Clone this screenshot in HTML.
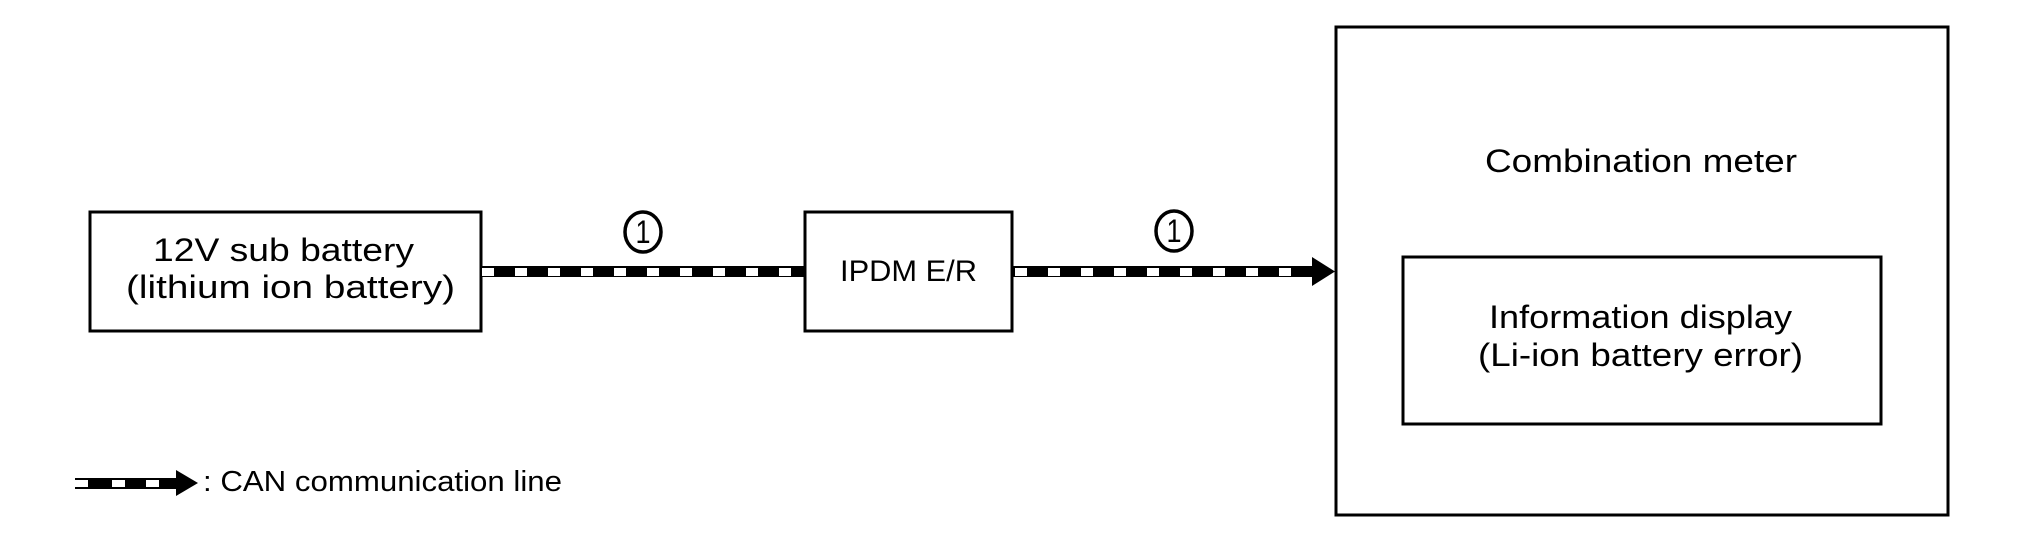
<!DOCTYPE html>
<html><head><meta charset="utf-8"><style>html,body{margin:0;padding:0;background:#fff}svg{display:block}</style></head><body>
<svg width="2020" height="544" viewBox="0 0 2020 544" xmlns="http://www.w3.org/2000/svg" font-family="Liberation Sans, sans-serif" fill="#000">
<defs>
<pattern id="dash" x="482" y="0" width="33" height="544" patternUnits="userSpaceOnUse">
<rect x="0" y="268" width="12" height="8" fill="#fff"/>
</pattern>
</defs>
<rect x="90" y="212" width="391" height="119" fill="none" stroke="#000" stroke-width="3"/>
<rect x="805" y="212" width="207" height="119" fill="none" stroke="#000" stroke-width="3"/>
<rect x="1336" y="27" width="612" height="488" fill="none" stroke="#000" stroke-width="3"/>
<rect x="1403" y="257" width="478" height="167" fill="none" stroke="#000" stroke-width="3"/>
<rect x="481" y="266" width="324" height="11" fill="#000"/>
<rect x="481" y="266" width="324" height="11" fill="url(#dash)"/>
<rect x="1012" y="266" width="302" height="11" fill="#000"/>
<g>
<rect x="1015" y="268" width="12" height="8" fill="#fff"/>
<rect x="1048" y="268" width="12" height="8" fill="#fff"/>
<rect x="1081" y="268" width="12" height="8" fill="#fff"/>
<rect x="1114" y="268" width="12" height="8" fill="#fff"/>
<rect x="1147" y="268" width="12" height="8" fill="#fff"/>
<rect x="1180" y="268" width="12" height="8" fill="#fff"/>
<rect x="1213" y="268" width="12" height="8" fill="#fff"/>
<rect x="1246" y="268" width="12" height="8" fill="#fff"/>
<rect x="1279" y="268" width="12" height="8" fill="#fff"/>
</g>
<polygon points="1312,257 1335,271.5 1312,286" fill="#000"/>
<ellipse cx="643" cy="232" rx="18" ry="20" fill="none" stroke="#000" stroke-width="3.5"/>
<text x="643" y="243" font-size="32" text-anchor="middle" textLength="15" lengthAdjust="spacingAndGlyphs">1</text>
<ellipse cx="1174" cy="231" rx="18" ry="20" fill="none" stroke="#000" stroke-width="3.5"/>
<text x="1174" y="242" font-size="32" text-anchor="middle" textLength="15" lengthAdjust="spacingAndGlyphs">1</text>
<text x="153" y="261" font-size="32" textLength="261" lengthAdjust="spacingAndGlyphs">12V sub battery</text>
<text x="126" y="298" font-size="32" textLength="329" lengthAdjust="spacingAndGlyphs">(lithium ion battery)</text>
<text x="840" y="281" font-size="30" textLength="137" lengthAdjust="spacingAndGlyphs">IPDM E/R</text>
<text x="1485" y="172" font-size="32" textLength="312" lengthAdjust="spacingAndGlyphs">Combination meter</text>
<text x="1489" y="328" font-size="32" textLength="303" lengthAdjust="spacingAndGlyphs">Information display</text>
<text x="1478" y="366" font-size="32" textLength="325" lengthAdjust="spacingAndGlyphs">(Li-ion battery error)</text>
<rect x="75" y="478" width="102" height="11" fill="#000"/>
<rect x="75" y="480" width="13" height="7" fill="#fff"/>
<rect x="112" y="480" width="13" height="7" fill="#fff"/>
<rect x="146" y="480" width="13" height="7" fill="#fff"/>
<polygon points="176,470 198,483 176,496" fill="#000"/>
<text x="203" y="491" font-size="29" textLength="359" lengthAdjust="spacingAndGlyphs">: CAN communication line</text>
</svg>
</body></html>
